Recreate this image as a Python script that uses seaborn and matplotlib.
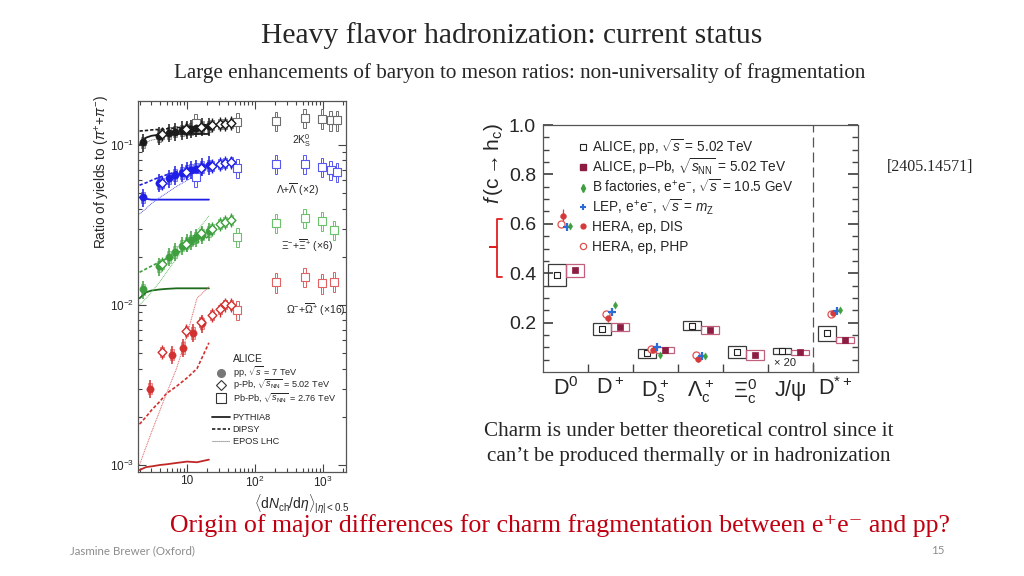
import numpy as np
import pandas as pd
import matplotlib
matplotlib.use("Agg")
import matplotlib.pyplot as plt
import seaborn as sns
from matplotlib.patches import Rectangle
from matplotlib.lines import Line2D
from matplotlib.legend import Legend
from matplotlib.ticker import FixedLocator, FixedFormatter, NullFormatter

# -------------------------------
# Left panel: strange hadron / pion ratios vs multiplicity
# -------------------------------
pp_mult = [2.26, 3.90, 5.40, 6.72, 8.45, 10.1, 11.5, 13.5, 16.5, 21.3]
ppb_mult = [4.3, 9.8, 16.1, 23.2, 30.5, 36.2, 45.0]
pbpb_mult = [13.4, 55, 205, 537, 966, 1294, 1601]
pbpb_mult_multi = [55, 205, 537, 966, 1448]
om_pp_mult = [2.86, 6.0, 8.8, 12.2, 16.6]
model_mult = [2.0, 2.5, 3.0, 4.0, 5.0, 7.0, 10.0, 14.0, 21.0]

k0s_pp = [0.104, 0.114, 0.119, 0.121, 0.124, 0.125, 0.126, 0.128, 0.130, 0.131]
k0s_ppb = [0.117, 0.126, 0.130, 0.133, 0.135, 0.136, 0.137]
k0s_pbpb = [0.137, 0.139, 0.141, 0.148, 0.146, 0.143, 0.143]
k0s_pythia = [0.100, 0.111, 0.114, 0.116, 0.117, 0.117, 0.117, 0.117, 0.117]
k0s_dipsy = [0.122, 0.123, 0.124, 0.125, 0.126, 0.128, 0.130, 0.132, 0.134]
k0s_epos = [0.100, 0.104, 0.107, 0.110, 0.113, 0.117, 0.121, 0.125, 0.130]

lam_pp = [0.047, 0.058, 0.062, 0.065, 0.067, 0.069, 0.070, 0.071, 0.073, 0.075]
lam_ppb = [0.058, 0.068, 0.072, 0.074, 0.076, 0.077, 0.078]
lam_pbpb = [0.063, 0.072, 0.076, 0.076, 0.073, 0.070, 0.068]
lam_pythia = [0.047, 0.046, 0.0455, 0.0455, 0.0455, 0.0455, 0.0455, 0.0455, 0.0455]
lam_dipsy = [0.056, 0.058, 0.060, 0.063, 0.065, 0.068, 0.071, 0.073, 0.076]
lam_epos = [0.037, 0.040, 0.043, 0.047, 0.050, 0.055, 0.060, 0.065, 0.071]

xi_pp = [0.0125, 0.0175, 0.0200, 0.0215, 0.0235, 0.0245, 0.0255, 0.0265, 0.0275, 0.0288]
xi_ppb = [0.018, 0.024, 0.028, 0.030, 0.032, 0.033, 0.034]
xi_pbpb = [0.0266, 0.0326, 0.0350, 0.0335, 0.0294]
xi_pythia = [0.0110, 0.0120, 0.0123, 0.0125, 0.0126, 0.0127, 0.0127, 0.0127, 0.0127]
xi_dipsy = [0.0160, 0.0168, 0.0175, 0.0186, 0.0195, 0.0210, 0.0228, 0.0245, 0.0268]
xi_epos = [0.0100, 0.0110, 0.0120, 0.0140, 0.0160, 0.0195, 0.0240, 0.0290, 0.0360]

om_pp = [0.0030, 0.0049, 0.0054, 0.0067, 0.0077]
om_ppb = [0.0051, 0.0069, 0.0078, 0.0087, 0.0094, 0.0101, 0.0100]
om_pbpb = [0.0093, 0.0139, 0.0150, 0.0137, 0.0140]
om_pythia = [0.00093, 0.00097, 0.00098, 0.00100, 0.00101, 0.00103, 0.00105, 0.00104, 0.00108]
om_dipsy = [0.0018, 0.0020, 0.0022, 0.0025, 0.0028, 0.0031, 0.0035, 0.0040, 0.0058]
om_epos = [0.0010, 0.0013, 0.0016, 0.0022, 0.0028, 0.0040, 0.0065, 0.0110, 0.0130]

# -------------------------------
# Right panel: charm fragmentation fractions
# -------------------------------
categories = [r"$\mathrm{D^0}$", r"$\mathrm{D^+}$", r"$\mathrm{D_s^+}$", r"$\Lambda_\mathrm{c}^+$",
              r"$\Xi_\mathrm{c}^0$", r"$\mathrm{J/\psi}$", r"$\mathrm{D^{*+}}$"]
alice_pp = [0.394, 0.173, 0.075, 0.188, 0.080, 0.086, 0.157]
alice_pp_syst = [0.045, 0.025, 0.018, 0.017, 0.024, 0.012, 0.030]
alice_ppb = [0.411, 0.182, 0.089, 0.169, 0.070, 0.079, 0.128]
alice_ppb_syst = [0.028, 0.018, 0.014, 0.016, 0.020, 0.010, 0.012]
ee_cats = [0, 1, 2, 3, 6]
hera_php = [0.600, 0.235, 0.093, 0.069, 0.235]
hera_dis = [0.630, 0.218, 0.090, 0.053, 0.238]
hera_dis_err = [0.030, 0.015, 0.010, 0.012, 0.012]
lep = [0.589, 0.242, 0.100, 0.063, 0.246]
bfac = [0.592, 0.270, 0.068, 0.063, 0.253]

# -------------------------------
# Figure setup
# -------------------------------
sns.set_theme(style="ticks")
plt.rcParams["font.family"] = ["Liberation Sans", "DejaVu Sans"]
plt.rcParams["mathtext.fontset"] = "custom"
plt.rcParams["mathtext.rm"] = "Liberation Sans"
plt.rcParams["mathtext.it"] = "Liberation Sans:italic"
plt.rcParams["mathtext.bf"] = "Liberation Sans:bold"

W, H = 1024, 576
fig = plt.figure(figsize=(10.24, 5.76), dpi=100)
fig.patch.set_facecolor("white")


def px_box(l, t, r, b):
    return [l / W, 1 - b / H, (r - l) / W, (b - t) / H]


ax1 = fig.add_axes(px_box(138, 101, 346, 472))
ax2 = fig.add_axes(px_box(543, 125, 858, 372))

serif = ["Liberation Serif", "DejaVu Serif"]


def log_boxes(ax, xs, ys, wdex, rel, edge, face, lw=0.6, z=2):
    for x, y in zip(xs, ys):
        x0, x1 = x * 10 ** (-wdex), x * 10 ** wdex
        ax.add_patch(Rectangle((x0, y * (1 - rel)), x1 - x0, 2 * y * rel,
                               facecolor=face, edgecolor=edge, lw=lw, zorder=z))


def row_legend(ax, handle, label, x, y, fs, hl, pad):
    # one legend row, so that every row sits at the same pitch
    leg = Legend(ax, [handle], [label], loc="center left", bbox_to_anchor=(x, y),
                 frameon=False, fontsize=fs, handlelength=hl, handletextpad=pad,
                 borderpad=0, borderaxespad=0)
    ax.add_artist(leg)


species = [
    (pp_mult, k0s_pp, k0s_ppb, pbpb_mult, k0s_pbpb, k0s_pythia, k0s_dipsy, k0s_epos,
     "#1a1a1a", "#6e6e6e", "#1a1a1a"),
    (pp_mult, lam_pp, lam_ppb, pbpb_mult, lam_pbpb, lam_pythia, lam_dipsy, lam_epos,
     "#1e1ee6", "#5858f0", "#1e1ee6"),
    (pp_mult, xi_pp, xi_ppb, pbpb_mult_multi, xi_pbpb, xi_pythia, xi_dipsy, xi_epos,
     "#3f9f3f", "#6cc26c", "#1d6b1d"),
    (om_pp_mult, om_pp, om_ppb, pbpb_mult_multi, om_pbpb, om_pythia, om_dipsy, om_epos,
     "#d33030", "#e06262", "#c02828"),
]

for (xpp, ypp, yppb, xpb, ypb, ypy, ydi, yep, col, light, pycol) in species:
    # models
    sns.lineplot(x=model_mult, y=ypy, ax=ax1, color=pycol, lw=1.3, zorder=3, legend=False)
    sns.lineplot(x=model_mult, y=ydi, ax=ax1, color=col, lw=1.2, linestyle=(0, (2, 1.2)),
                 zorder=3, legend=False)
    sns.lineplot(x=model_mult, y=yep, ax=ax1, color=light, lw=0.7, linestyle=(0, (1, 0.8)),
                 zorder=3, legend=False)
    # pp: shaded syst boxes + filled circles
    log_boxes(ax1, xpp, ypp, 0.03, 0.08, light, light + "66", lw=0.5, z=2)
    ax1.vlines(xpp, np.array(ypp) * 0.87, np.array(ypp) * 1.13, color=col, lw=1.1, zorder=4)
    sns.scatterplot(x=xpp, y=ypp, ax=ax1, marker="o", s=28, color=col, edgecolor=col,
                    linewidth=0.3, zorder=5, legend=False)
    # p-Pb: open boxes + open diamonds
    log_boxes(ax1, ppb_mult, yppb, 0.025, 0.07, light, "none", lw=0.6, z=2)
    ax1.vlines(ppb_mult, np.array(yppb) * 0.9, np.array(yppb) * 1.1, color=col, lw=1.0, zorder=4)
    sns.scatterplot(x=ppb_mult, y=yppb, ax=ax1, marker="D", s=20, color="white",
                    edgecolor=col, linewidth=1.0, zorder=5, legend=False)
    # Pb-Pb: tall open boxes + open squares
    log_boxes(ax1, xpb, ypb, 0.018, 0.14, light, "none", lw=0.7, z=2)
    sns.scatterplot(x=xpb, y=ypb, ax=ax1, marker="s", s=40, color="white",
                    edgecolor=light, linewidth=0.8, zorder=4, legend=False)

ax1.set_xscale("log")
ax1.set_yscale("log")
ax1.set_xlim(1.9, 2180)
ax1.set_ylim(9.04e-4, 0.188)
ax1.xaxis.set_major_locator(FixedLocator([10, 100, 1000]))
ax1.xaxis.set_major_formatter(FixedFormatter(["10", r"$10^2$", r"$10^3$"]))
ax1.yaxis.set_major_locator(FixedLocator([1e-3, 1e-2, 1e-1]))
ax1.yaxis.set_major_formatter(FixedFormatter([r"$10^{-3}$", r"$10^{-2}$", r"$10^{-1}$"]))
ax1.xaxis.set_minor_formatter(NullFormatter())
ax1.yaxis.set_minor_formatter(NullFormatter())
ax1.tick_params(which="both", direction="in", top=True, right=True, labelsize=8.5,
                color="#444", width=0.8, pad=3)
ax1.tick_params(axis="x", which="both", pad=2)
ax1.tick_params(which="major", length=6)
ax1.tick_params(which="minor", length=3)
for sp in ax1.spines.values():
    sp.set_color("#555")
    sp.set_linewidth(0.9)

ax1.text(-0.172, 0.809, r"Ratio of yields to $(\pi^{+}$+$\pi^{-})$", transform=ax1.transAxes,
         rotation=90, ha="center", va="center", fontsize=9.8)
ax1.text(0.785, -0.084, r"$\langle\mathrm{d}N_{\mathrm{ch}}/\mathrm{d}\eta\rangle_{|\eta|<0.5}$",
         transform=ax1.transAxes, ha="center", va="center", fontsize=10)

ax1.text(490, 0.107, r"$2\mathrm{K}^0_\mathrm{S}$", ha="center", va="center", fontsize=7.5)
ax1.text(415, 0.0524, r"$\Lambda$+$\overline{\Lambda}$ (×2)", ha="center", va="center", fontsize=7.5)
ax1.text(580, 0.0234, r"$\Xi^{-}$+$\overline{\Xi}^{+}$ (×6)", ha="center", va="center", fontsize=7.5)
ax1.text(790, 0.0093, r"$\Omega^{-}$+$\overline{\Omega}^{+}$ (×16)", ha="center", va="center", fontsize=7.5)

ax1.text(0.457, (472 - 359) / 371, "ALICE", transform=ax1.transAxes, ha="left", va="center",
         fontsize=7.5)
left_keys = [
    (Line2D([], [], marker="o", ls="none", color="#777777", markersize=5.5),
     r"pp, $\sqrt{s}$ = 7 TeV", 372),
    (Line2D([], [], marker="D", ls="none", mfc="white", mec="#333333", markersize=5, mew=0.8),
     r"p-Pb, $\sqrt{s_{\rm NN}}$ = 5.02 TeV", 385),
    (Line2D([], [], marker="s", ls="none", mfc="white", mec="#333333", markersize=6.5, mew=0.8),
     r"Pb-Pb, $\sqrt{s_{\rm NN}}$ = 2.76 TeV", 398),
    (Line2D([], [], color="#222222", lw=1.3), "PYTHIA8", 418),
    (Line2D([], [], color="#222222", lw=1.2, ls=(0, (2, 1.2))), "DIPSY", 430),
    (Line2D([], [], color="#777777", lw=0.8, ls=(0, (1, 0.8))), "EPOS LHC", 442),
]
for h, lab, ypx in left_keys:
    row_legend(ax1, h, lab, 0.356, (472 - ypx) / 371, 6.6, 1.95, 0.3)

# -------------------------------
# Right panel drawing
# -------------------------------
cat_idx = np.arange(len(categories))
pp_x = cat_idx - 0.2
ppb_x = cat_idx + 0.2

for x, y, s in zip(pp_x, alice_pp, alice_pp_syst):
    ax2.add_patch(Rectangle((x - 0.2, y - s), 0.4, 2 * s, facecolor="none",
                            edgecolor="#3a3a3a", lw=0.9, zorder=2))
for x, y, s in zip(ppb_x, alice_ppb, alice_ppb_syst):
    ax2.add_patch(Rectangle((x - 0.2, y - s), 0.4, 2 * s, facecolor="none",
                            edgecolor="#c0607c", lw=0.9, zorder=2))

ax2.vlines(pp_x, np.array(alice_pp) - 0.012, np.array(alice_pp) + 0.012, color="#555", lw=0.7)
sns.scatterplot(x=pp_x, y=alice_pp, ax=ax2, marker="s", s=14, color="white",
                edgecolor="#222222", linewidth=0.8, zorder=4, legend=False)
sns.scatterplot(x=ppb_x, y=alice_ppb, ax=ax2, marker="s", s=16, color="#8c1c42",
                edgecolor="#8c1c42", linewidth=0.5, zorder=4, legend=False)

ee_x = np.array(ee_cats, dtype=float)
ax2.vlines(ee_x - 0.05, np.array(hera_dis) - np.array(hera_dis_err),
           np.array(hera_dis) + np.array(hera_dis_err), color="#d84040", lw=0.9, zorder=4)
sns.scatterplot(x=ee_x - 0.1, y=hera_php, ax=ax2, marker="o", s=26, color="white",
                edgecolor="#e05050", linewidth=0.9, zorder=4, legend=False)
sns.scatterplot(x=ee_x - 0.05, y=hera_dis, ax=ax2, marker="o", s=18, color="#d43a3a",
                edgecolor="#d43a3a", linewidth=0.3, zorder=5, legend=False)
sns.scatterplot(x=ee_x + 0.03, y=lep, ax=ax2, marker="+", s=30, color="#2d6bd6",
                linewidth=1.6, zorder=5, legend=False)
sns.scatterplot(x=ee_x + 0.1, y=bfac, ax=ax2, marker="d", s=14, color="#3f9f3f",
                edgecolor="#3f9f3f", linewidth=0.3, zorder=5, legend=False)

ax2.axvline(5.5, color="#555555", lw=0.9, dashes=(8, 4), zorder=1)
ax2.text(4.88, 0.036, "× 20", ha="center", va="center", fontsize=8)

ax2.set_xlim(-0.5, 6.5)
ax2.set_ylim(0, 1.0)
ax2.set_xticks(cat_idx)
ax2.set_xticklabels(categories, fontsize=15.5)
ax2.set_xticks(np.arange(0.5, 6, 1), minor=True)
ax2.tick_params(axis="x", which="major", length=0, pad=4)
ax2.tick_params(axis="x", which="minor", direction="in", length=6, color="#444")
ax2.set_yticks([0.2, 0.4, 0.6, 0.8, 1.0])
ax2.set_yticklabels(["0.2", "0.4", "0.6", "0.8", "1.0"], fontsize=14)
ax2.set_yticks(np.arange(0.05, 1.0, 0.05), minor=True)
ax2.tick_params(axis="y", which="both", direction="in", left=True, right=True, color="#444", pad=5)
ax2.tick_params(axis="y", which="major", length=7)
ax2.tick_params(axis="y", which="minor", length=4)
for sp in ax2.spines.values():
    sp.set_color("#555")
    sp.set_linewidth(0.9)
ax2.text(-0.156, 0.846, r"$f\,(\mathrm{c}\rightarrow\mathrm{h_c})$", transform=ax2.transAxes,
         rotation=90, ha="center", va="center", fontsize=15)

# red bracket next to the y axis
bx = [-0.130, -0.146, -0.146, -0.168, -0.146, -0.146, -0.130]
by = [0.62, 0.62, 0.505, 0.505, 0.505, 0.383, 0.383]
ax2.plot(bx, by, transform=ax2.get_yaxis_transform(), color="#e02020", lw=1.3, clip_on=False)

right_keys = [
    (Line2D([], [], marker="s", ls="none", mfc="white", mec="#222222", markersize=4, mew=0.8),
     r"ALICE, pp, $\sqrt{s}$ = 5.02 TeV"),
    (Line2D([], [], marker="s", ls="none", color="#8c1c42", markersize=4),
     r"ALICE, p–Pb, $\sqrt{s_{\rm NN}}$ = 5.02 TeV"),
    (Line2D([], [], marker="d", ls="none", color="#3f9f3f", markersize=4),
     r"B factories, e$^{+}$e$^{-}$, $\sqrt{s}$ = 10.5 GeV"),
    (Line2D([], [], marker="+", ls="none", color="#2d6bd6", markersize=5, mew=1.5),
     r"LEP, e$^{+}$e$^{-}$, $\sqrt{s}$ = $m_{\rm Z}$"),
    (Line2D([], [], marker="o", ls="none", color="#d43a3a", markersize=3.5),
     "HERA, ep, DIS"),
    (Line2D([], [], marker="o", ls="none", mfc="white", mec="#e05050", markersize=4.5, mew=0.9),
     "HERA, ep, PHP"),
]
for i, (h, lab) in enumerate(right_keys):
    ypx = 147 + 20 * i
    row_legend(ax2, h, lab, 0.116, (372 - ypx) / 247, 9.8, 0.55, 0.4)

# -------------------------------
# Slide text
# -------------------------------
fig.text(0.5, 1 - 36 / H, "Heavy flavor hadronization: current status", ha="center",
         va="center", fontsize=21.3, family=serif)
fig.text(520 / W, 1 - 73 / H,
         "Large enhancements of baryon to meson ratios: non-universality of fragmentation",
         ha="center", va="center", fontsize=15.2, family=serif)
fig.text(930 / W, 1 - 167 / H, "[2405.14571]", ha="center", va="center", fontsize=11.5,
         family=serif)
fig.text(689 / W, 1 - 432 / H, "Charm is under better theoretical control since it",
         ha="center", va="center", fontsize=15.2, family=serif)
fig.text(689 / W, 1 - 456 / H, "can’t be produced thermally or in hadronization",
         ha="center", va="center", fontsize=15.2, family=serif)
fig.text(560 / W, 1 - 526 / H,
         "Origin of major differences for charm fragmentation between e⁺e⁻ and pp?",
         ha="center", va="center", fontsize=18.6, color="#c00010", family=serif)
fig.text(70 / W, 1 - 551 / H, "Jasmine Brewer (Oxford)", ha="left", va="center",
         fontsize=8.3, color="#8c8c8c", family=["Lato", "DejaVu Sans"])
fig.text(945 / W, 1 - 551 / H, "15", ha="right", va="center", fontsize=8.3, color="#8c8c8c",
         family=["Lato", "DejaVu Sans"])

fig.savefig("out.png", dpi=100)
